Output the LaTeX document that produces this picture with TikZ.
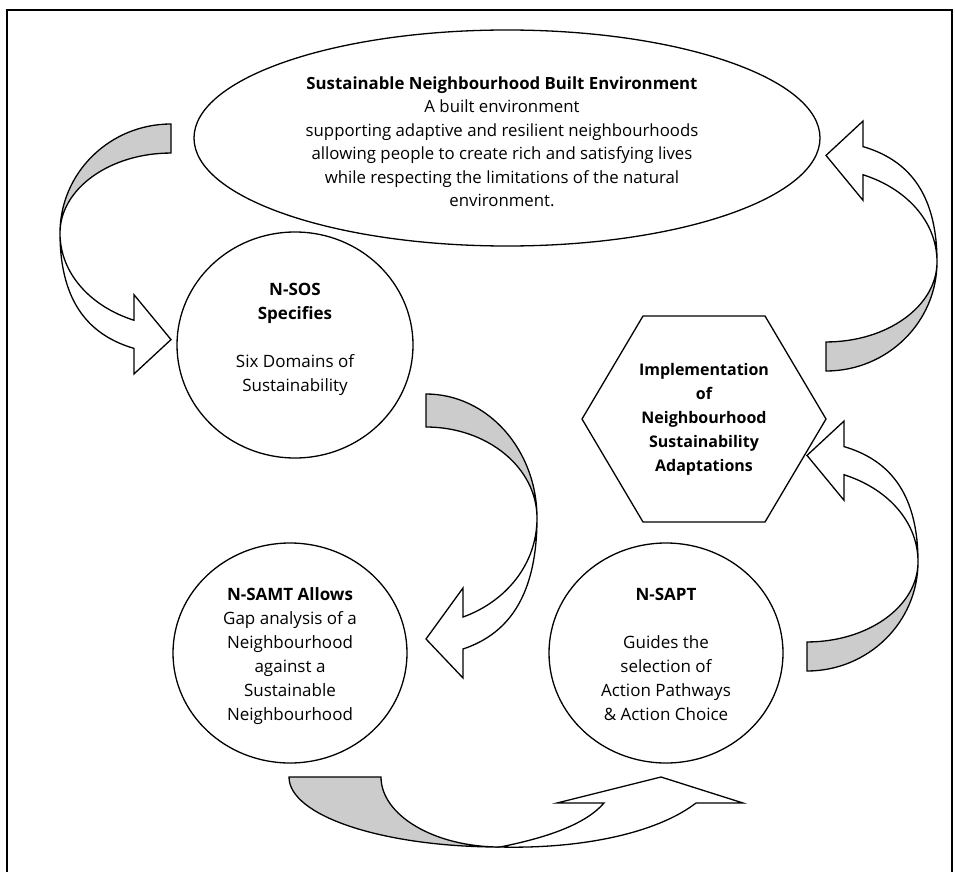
\documentclass[tikz,border=0pt]{standalone}
\usepackage{fontspec}
\setmainfont{Open Sans}
\usetikzlibrary{shapes.geometric}

\definecolor{bandgray}{RGB}{204,204,204}

\tikzset{
  outline/.style={draw=black, line width=1.3pt, line join=miter},
  bubble/.style={outline, ellipse, fill=white, inner sep=0pt},
  txt/.style={align=center, inner sep=0pt, font=\fontsize{17}{24}\selectfont},
  goaltxt/.style={align=center, inner sep=0pt, font=\fontsize{16.8}{23.5}\selectfont},
  backband/.style={outline, fill=bandgray},
  frontband/.style={outline, fill=white},
  % curved block arrow: grey back band from the origin to the twist,
  % white front band from the twist to the head
  pics/bentarrow/.style={code={
    \draw[backband] (0,0) .. controls (61.3,0) and (111,55.5) .. (111,124)
      .. controls (111,73.7) and (61.3,33) .. (0,33) -- cycle;
    \draw[frontband] (111,124) .. controls (111,171) and (79,208) .. (37,223)
      -- (37,194) -- (0,245) -- (37,284) -- (37,255)
      .. controls (79,241) and (111,206) .. (111,124) -- cycle;
  }}
}

\begin{document}
\begin{tikzpicture}[x=1pt,y=-1pt]
\useasboundingbox (0,0) rectangle (955,872);

% page frame
\draw[line width=2pt] (7,890) -- (7,10) -- (952,10) -- (952,890);

% main shapes
\node[bubble, minimum width=626pt, minimum height=216pt] (goal) at (507,138) {};
\node[bubble, minimum width=236pt, minimum height=226pt] (sos) at (295,345) {};
\node[bubble, minimum width=234pt, minimum height=220pt] (samt) at (290,653) {};
\node[bubble, minimum width=234pt, minimum height=220pt] (sapt) at (666,653) {};
\draw[outline, fill=white] (643,316) -- (765,316) -- (826,419) -- (765,522)
  -- (643,522) -- (582,419) -- cycle;

% curved arrows of the cycle
\pic[xscale=-1, yscale=0.88] (toSOS) at (171,124) {bentarrow};
\pic (toSAMT) at (426,394) {bentarrow};
\pic[yscale=-0.88] (toGoal) at (826,371) {bentarrow};
\pic[yscale=-0.88] (toImpl) at (807,671) {bentarrow};

% curved up arrow from N-SAMT to N-SAPT
\coordinate (twist) at (500,847);
\draw[backband] (289,777) -- (381,777)
  .. controls (381,815) and (434,847) .. (twist)
  .. controls (383.5,847) and (289,816) .. (289,777) -- cycle;
\draw[frontband] (twist) .. controls (545,838) and (585,825) .. (604,803)
  -- (557,803) -- (661,777) -- (743,803) -- (696,803)
  .. controls (657,833) and (582,849) .. (twist) -- cycle;

% texts
\node[goaltxt] (goaltext) at (502,143.5) {%
  \strut\textbf{Sustainable Neighbourhood Built Environment}\\
  \strut A built environment\\
  \strut supporting adaptive and resilient neighbourhoods\\
  \strut allowing people to create rich and satisfying lives\\
  \strut while respecting the limitations of the natural\\
  \strut environment.};
\node[txt] (sostext) at (295,338.5) {%
  \strut\textbf{N-SOS}\\
  \strut\textbf{Specifies}\\
  \strut\\
  \strut Six Domains of\\
  \strut Sustainability};
\node[txt] (samttext) at (290,655.5) {%
  \strut\textbf{N-SAMT Allows}\\
  \strut Gap analysis of a\\
  \strut Neighbourhood\\
  \strut against a\\
  \strut Sustainable\\
  \strut Neighbourhood};
\node[txt] (sapttext) at (666,655.5) {%
  \strut\textbf{N-SAPT}\\
  \strut\\
  \strut Guides the\\
  \strut selection of\\
  \strut Action Pathways\\
  \strut \& Action Choice};
\node[txt, font=\fontsize{16}{24}\selectfont\bfseries] (impltext) at (704,419) {%
  \strut Implementation\\
  \strut of\\
  \strut Neighbourhood\\
  \strut Sustainability\\
  \strut Adaptations};
\end{tikzpicture}
\end{document}
